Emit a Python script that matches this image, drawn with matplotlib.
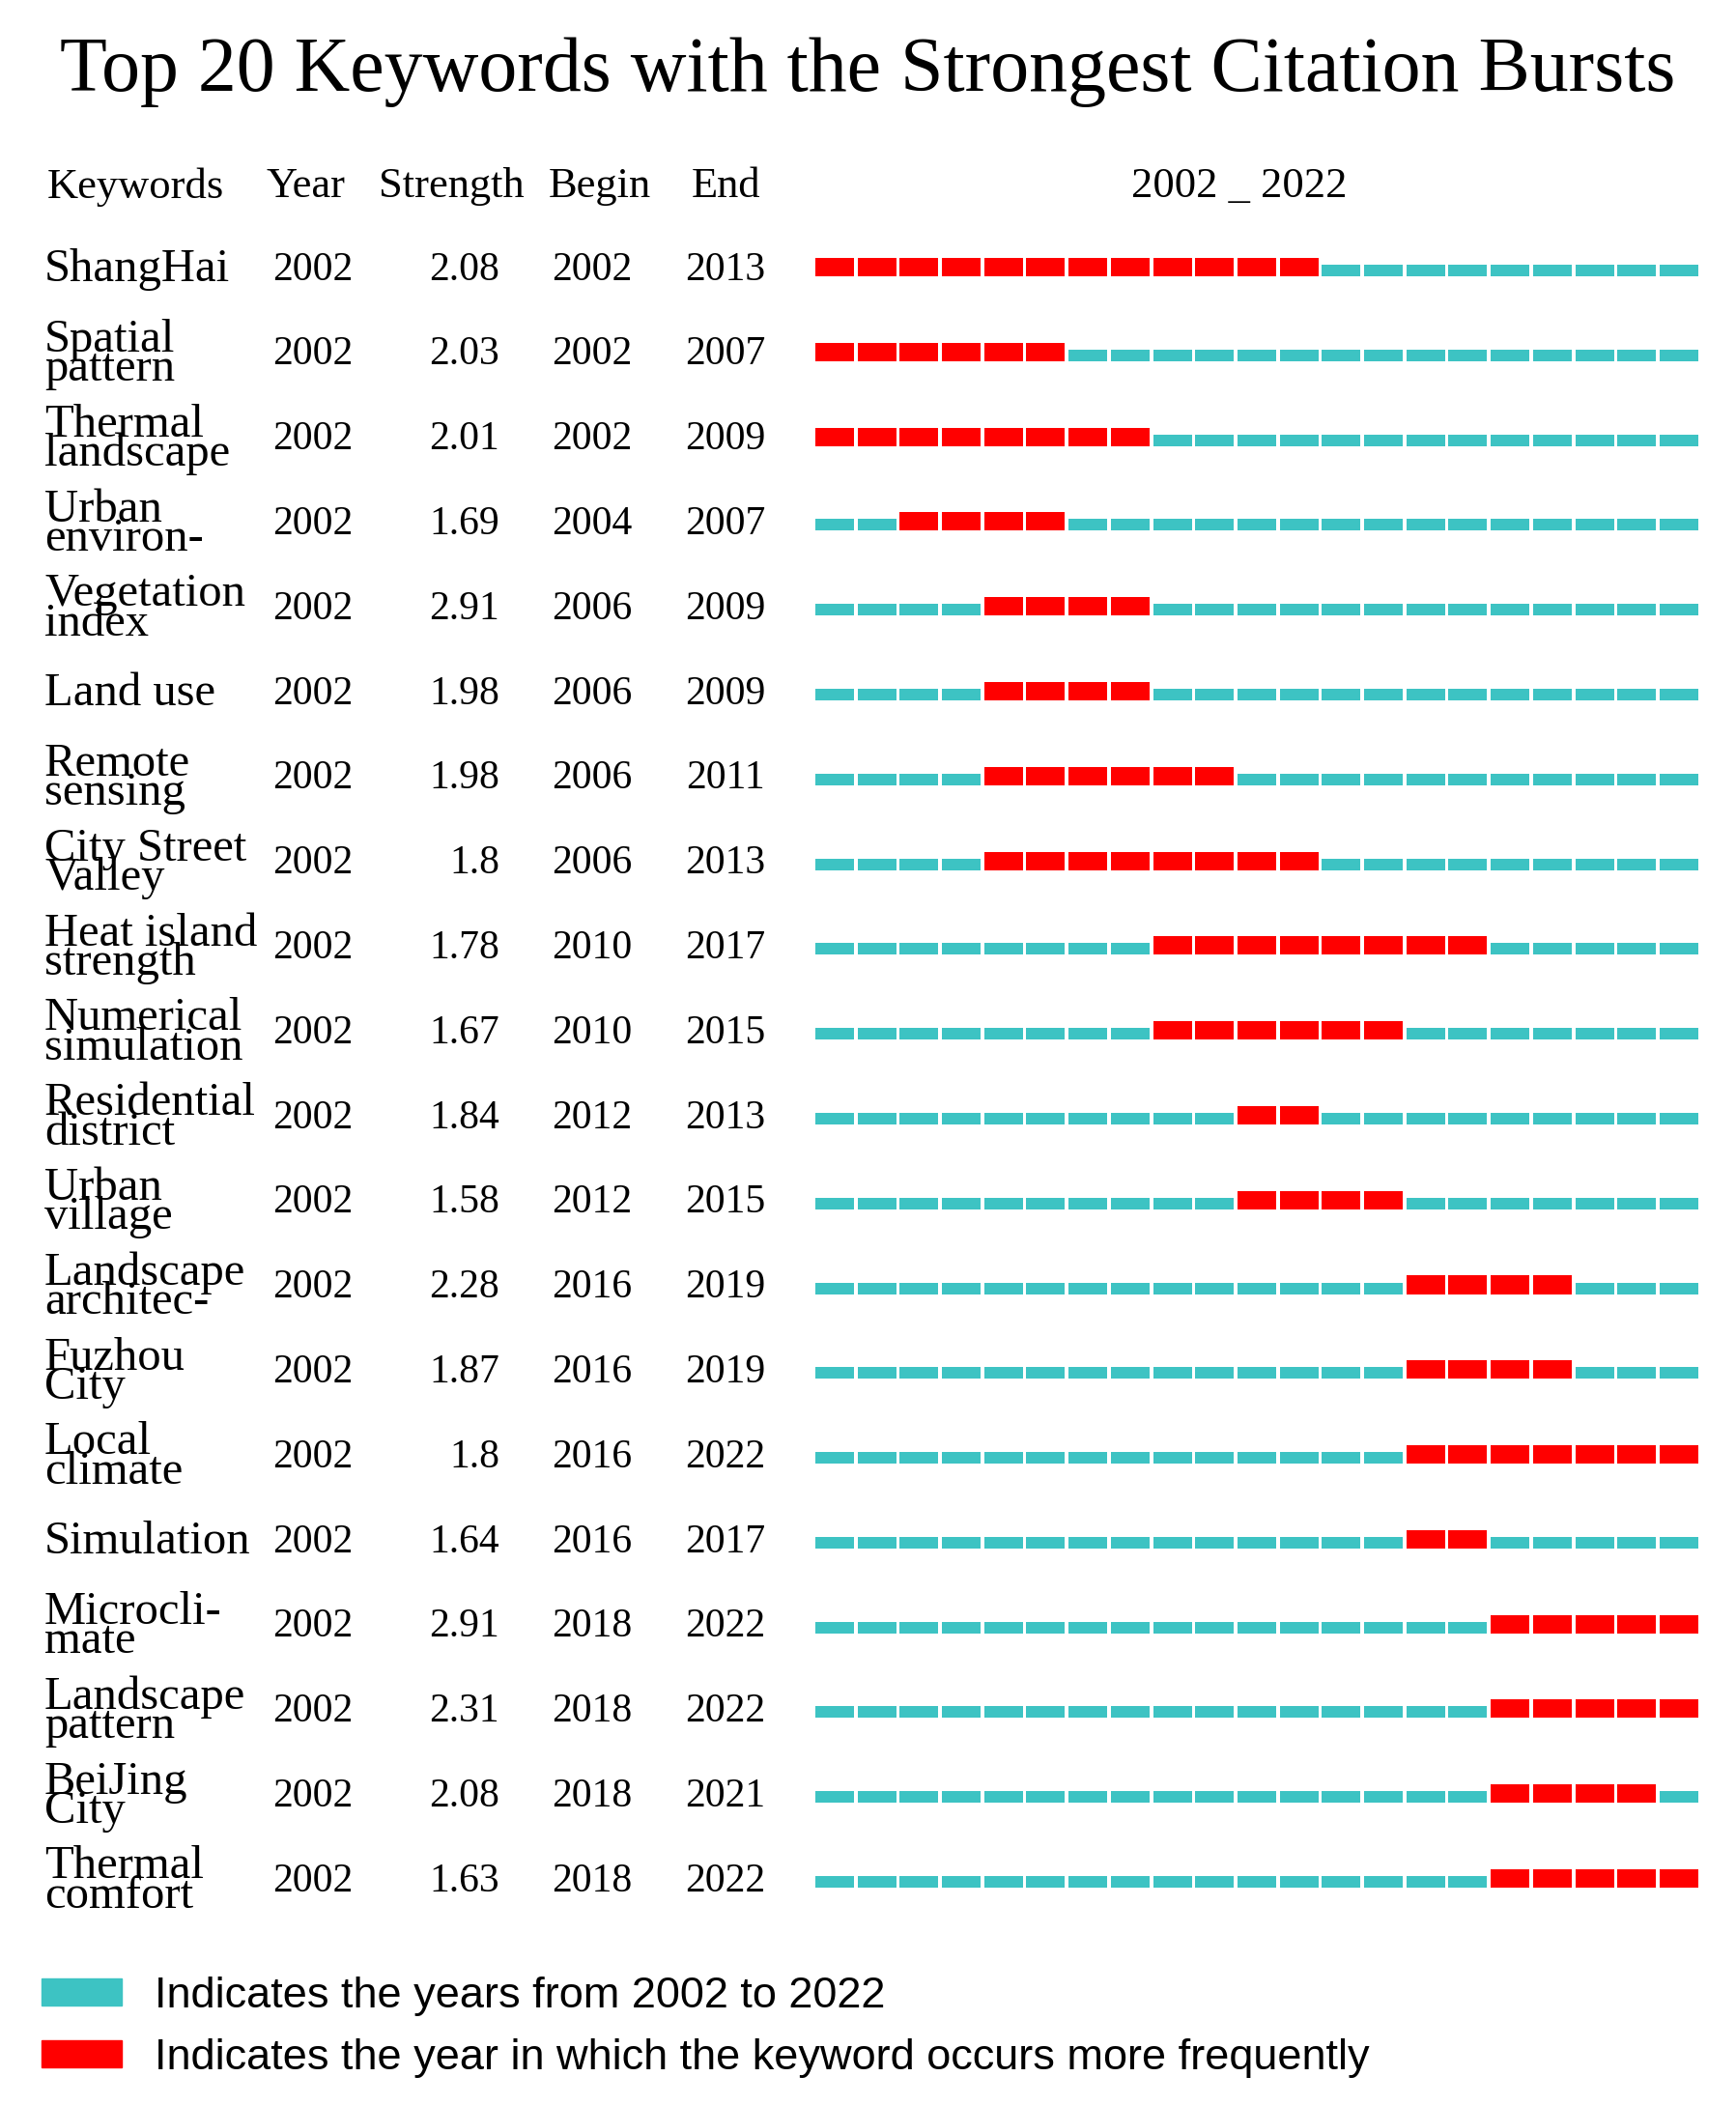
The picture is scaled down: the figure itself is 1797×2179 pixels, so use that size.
import matplotlib.pyplot as plt
import matplotlib.transforms as mtransforms
from matplotlib.patches import Patch

# table data
keywords = ["ShangHai", "Spatial\npattern", "Thermal\nlandscape", "Urban\nenviron-",
            "Vegetation\nindex", "Land use", "Remote\nsensing", "City Street\nValley",
            "Heat island\nstrength", "Numerical\nsimulation", "Residential\ndistrict",
            "Urban\nvillage", "Landscape\narchitec-", "Fuzhou\nCity", "Local\nclimate",
            "Simulation", "Microcli-\nmate", "Landscape\npattern", "BeiJing\nCity",
            "Thermal\ncomfort"]
year = [2002] * 20
strength = [2.08, 2.03, 2.01, 1.69, 2.91, 1.98, 1.98, 1.8, 1.78, 1.67,
            1.84, 1.58, 2.28, 1.87, 1.8, 1.64, 2.91, 2.31, 2.08, 1.63]
begin = [2002, 2002, 2002, 2004, 2006, 2006, 2006, 2006, 2010, 2010,
         2012, 2012, 2016, 2016, 2016, 2016, 2018, 2018, 2018, 2018]
end = [2013, 2007, 2009, 2007, 2009, 2009, 2011, 2013, 2017, 2015,
       2013, 2015, 2019, 2019, 2022, 2017, 2022, 2022, 2021, 2022]
timeline = list(range(2002, 2023))

RED = "#ff0000"
CYAN = "#3dc3c3"
SERIF = ["Liberation Serif", "DejaVu Serif"]
SANS = ["Liberation Sans", "DejaVu Sans"]

fig = plt.figure(figsize=(17.97, 21.79), dpi=100)
ax = fig.add_axes([0.4686, 0.0861, 0.5107, 0.8058])
ax.set_xlim(2001.5, 2022.5)
ax.set_ylim(len(keywords) - 0.5, -0.5)
ax.axis("off")

for i in range(len(keywords)):
    hot = [begin[i] <= y <= end[i] for y in timeline]
    heights = [0.217 if h else 0.137 for h in hot]
    bottoms = [i + 0.075 - h for h in heights]
    colors = [RED if h else CYAN for h in hot]
    ax.bar(timeline, heights, bottom=bottoms, width=0.915, color=colors, linewidth=0)

# text columns: x in figure fraction, y in row units
tr = mtransforms.blended_transform_factory(fig.transFigure, ax.transData)
for i in range(len(keywords)):
    ax.text(0.0256, i, keywords[i], transform=tr, ha="left", va="center",
            fontsize=35, family=SERIF, linespacing=0.6)
    ax.text(0.180, i, str(year[i]), transform=tr, ha="center", va="center",
            fontsize=30, family=SERIF)
    ax.text(0.2877, i, str(strength[i]), transform=tr, ha="right", va="center",
            fontsize=30, family=SERIF)
    ax.text(0.341, i, str(begin[i]), transform=tr, ha="center", va="center",
            fontsize=30, family=SERIF)
    ax.text(0.418, i, str(end[i]), transform=tr, ha="center", va="center",
            fontsize=30, family=SERIF)

fig.text(0.5, 0.966, "Top 20 Keywords with the Strongest Citation Bursts",
         ha="center", va="center", fontsize=57.5, family=SERIF)

hy = 0.9113
fig.text(0.0273, hy, "Keywords", ha="left", va="center", fontsize=32, family=SERIF)
fig.text(0.1764, hy, "Year", ha="center", va="center", fontsize=32, family=SERIF)
fig.text(0.260, hy, "Strength", ha="center", va="center", fontsize=32, family=SERIF)
fig.text(0.3456, hy, "Begin", ha="center", va="center", fontsize=32, family=SERIF)
fig.text(0.418, hy, "End", ha="center", va="center", fontsize=32, family=SERIF)
fig.text(0.714, hy, "%d _ %d" % (timeline[0], timeline[-1]), ha="center",
         va="center", fontsize=32, family=SERIF)

handles = [Patch(color=CYAN), Patch(color=RED)]
labels = ["Indicates the years from 2002 to 2022",
          "Indicates the year in which the keyword occurs more frequently"]
fig.legend(handles, labels, loc="upper left", bbox_to_anchor=(0.024, 0.061),
           frameon=False, prop={"family": SANS, "size": 32.5},
           handlelength=1.84, handleheight=0.58, handletextpad=0.75,
           labelspacing=0.51, borderpad=0.0, borderaxespad=0.0)

fig.savefig("out.png", dpi=100, facecolor="white")
